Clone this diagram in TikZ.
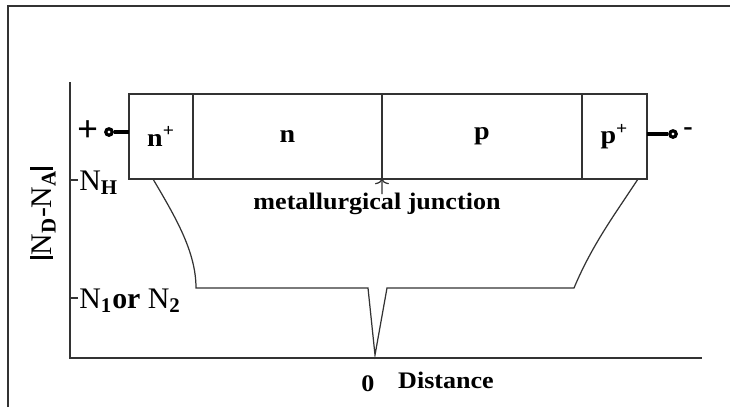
\documentclass[tikz,border=0pt]{standalone}
\usepackage{fontspec}
\setmainfont{Liberation Serif}
\newfontfamily\widefont{Liberation Serif}[FakeStretch=1.1]
\usetikzlibrary{arrows.meta,positioning}

\definecolor{ink}{HTML}{333333}

\begin{document}
\begin{tikzpicture}[x=0.02cm, y=-0.02cm,
  region/.style={
    rectangle, draw=ink, line width=0.7pt, inner sep=0pt, outer sep=0pt,
    minimum height=1.7cm, font=\widefont\bfseries\fontsize{14.5}{16}\selectfont
  },
  lbl/.style={inner sep=1pt, font=\widefont\bfseries\fontsize{13.5}{15}\selectfont},
  biglbl/.style={inner sep=0pt, font=\fontsize{17}{19}\selectfont},
  term/.style={circle, draw=black, fill=white, line width=1.8pt, minimum size=0.13cm, inner sep=0pt},
  lead/.style={black, line width=2pt},
  axis/.style={ink, line width=0.7pt},
  prof/.style={ink, line width=0.7pt, line join=miter}
]
\useasboundingbox (0,0) rectangle (730,407);

% outer frame (top and left edges only)
\draw[ink, line width=0.8pt] (8,407) -- (8,6) -- (730,6);

% the device
\node[region, minimum width=1.28cm] (nplus) at (161,136.5) {n\textsuperscript{+}};
\node[region, minimum width=3.78cm, right=0pt of nplus] (nreg) {n};
\node[region, minimum width=4cm, right=0pt of nreg] (preg) {p};
\node[region, minimum width=1.3cm, right=0pt of preg] (pplus) {p\textsuperscript{+}};

% terminals
\node[biglbl, font=\bfseries\fontsize{21}{23}\selectfont] (plus) at (88,131) {+};
\node[term] (tleft) at (109,132) {};
\draw[lead] (tleft) -- (tleft -| nplus.west);
\node[term] (tright) at (673,134) {};
\draw[lead] (tright) -- (tright -| pplus.east);
\node[lbl, font=\bfseries\fontsize{16}{18}\selectfont] (minus) at (688,132) {-};

% axes
\coordinate (ytop) at (70,82);
\coordinate (orig) at (70,358);
\coordinate (xend) at (702,358);
\draw[axis] (ytop) -- (orig) -- (xend);

\node[biglbl, rotate=90] (ylab) at (43,213)
  {\rule[-0.05em]{2.2pt}{0.75em}N\textsubscript{\textbf{D}}-N\textsubscript{\textbf{A}}\rule[-0.05em]{2.2pt}{0.75em}};

\draw[axis] (70,180) -- ++(8,0);
\node[biglbl, anchor=base west] (nh) at (79,190) {N\textsubscript{\textbf{H}}};
\draw[axis] (70,298) -- ++(8,0);
\node[biglbl, anchor=base west] (nlow) at (79,308) {N\textsubscript{\textbf{1}}\textbf{or} N\textsubscript{\textbf{2}}};

% doping profile
\draw[prof] (153,179) .. controls (176,218) and (196,252) .. (196,288)
  -- (368,288) -- (375,355) -- (387,288) -- (574,288)
  .. controls (592,245) and (615,214) .. (638,179);

% junction marker
\node[lbl] (mj) at (377,204) {metallurgical junction};
\coordinate (mjtail) at (382,194);
\draw[ink, line width=0.7pt, -{To[length=3pt,width=8pt]}] (mjtail) -- (nreg.south east);

% x axis labels
\node[lbl] (zero) at (368,384) {0};
\node[lbl] (dist) at (446,380) {Distance};

\end{tikzpicture}
\end{document}
